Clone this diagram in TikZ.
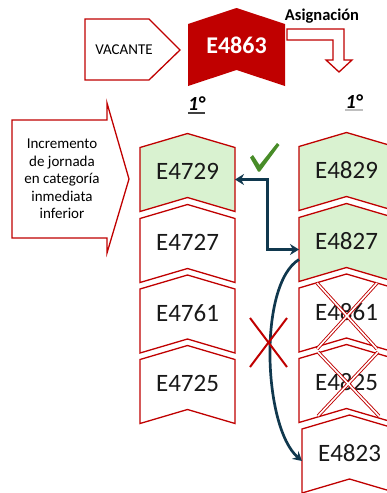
\documentclass[tikz,border=0pt]{standalone}
\usepackage{fontspec}
\setmainfont{Carlito}
\usetikzlibrary{arrows.meta,backgrounds,calc}
\definecolor{cred}{RGB}{192,0,0}
\definecolor{cgreen}{RGB}{217,242,208}
\definecolor{cnavy}{RGB}{16,56,78}
\definecolor{ccheck}{RGB}{72,140,40}
\tikzset{
  box/.style={minimum width=95pt, minimum height=64pt, inner sep=0pt, outer sep=0pt,
    text height=16pt, text depth=16pt, font=\fontsize{25}{30}\selectfont, text=black!90},
  redline/.style={draw=cred, line width=1.3pt, fill=white},
  greenbox/.style={draw=cred, line width=1.3pt, fill=cgreen},
  whitebox/.style={draw=cred, line width=1.3pt, fill=white},
  crossx/.style={draw=cred, line width=0.9pt, double=white, double distance=1.6pt},
  navyarrow/.style={draw=cnavy, line width=3pt},
}
\newcommand{\chev}[3]{%
  \path[#3] (#1.north west) -- ([yshift=#2]#1.north) -- (#1.north east) --
    (#1.south east) -- ([yshift=#2]#1.south) -- (#1.south west) -- cycle;}
\begin{document}
\begin{tikzpicture}[x=1pt,y=-1pt]
\useasboundingbox (0,0) rectangle (387,493);

% boxes
\node[box] (b4729) at (187.5,179.5) {E4729};
\node[box] (b4727) at (187.5,250.5) {E4727};
\node[box] (b4761) at (187.5,321) {E4761};
\node[box] (b4725) at (187.5,391.5) {E4725};
\node[box] (b4829) at (346.5,178.5) {E4829};
\node[box] (b4827) at (346.5,249.5) {E4827};
\node[box] (b4861) at (346.5,320) {E4861};
\node[box] (b4825) at (346.5,390.5) {E4825};
\node[box] (b4823) at (349.5,461) {E4823};
\node[box, minimum width=97pt, minimum height=62pt, text height=14pt, text depth=18pt,
  text=white, font=\bfseries\fontsize{24}{28}\selectfont] (b4863) at (236.5,55) {E4863};

% texts
\node[font=\fontsize{15}{18}\selectfont, anchor=base, inner sep=0pt] (vac) at (124,54) {VACANTE};
\node[font=\bfseries\fontsize{16.5}{20}\selectfont, anchor=base, inner sep=0pt] (asig) at (322,20) {Asignación};
\node[align=center, font=\fontsize{15}{17.5}\selectfont, inner sep=0pt] (inc) at (62,179)
  {Incremento\\de jornada\\en categoría\\inmediata\\inferior};
\node[font=\bfseries\itshape\fontsize{20}{24}\selectfont, anchor=base, inner sep=0pt] (p1) at (196.5,110) {1°};
\node[font=\bfseries\itshape\fontsize{20}{24}\selectfont, anchor=base, inner sep=0pt] (p2) at (354,108) {1°};
\draw[black!75, line width=1.2pt] ([yshift=-3pt]p1.base west) -- ([yshift=-3pt]p1.base east);
\draw[black!25, line width=1.5pt] ([yshift=-2pt]p2.base west) -- ([yshift=-2pt]p2.base east);

% check mark
\fill[ccheck] (250,157.5) -- (253,155) -- (259.5,165) -- (277,143) -- (279.5,145) -- (260,171.5) -- (258,171.5) -- cycle;

% connectors
\draw[navyarrow, {Stealth[length=9pt,width=11pt]}-{Stealth[length=9pt,width=11pt]}]
  (b4729.east) -- ++(32,0) |- (b4827.west);
\draw[draw=cnavy, line width=2.7pt, -{Stealth[length=9pt,width=10pt]}]
  ([yshift=-10pt]b4827.west) .. controls +(-41,25) and +(-39,-34) .. (b4823.west);

% crosses
\draw[cred, line width=2pt] (250,318) -- (287,367) (287,318) -- (250,367);
\draw[crossx] (317,283) -- (377,349) (377,283) -- (317,349);
\draw[crossx] (318,352) -- (379,416) (378,352) -- (318,416);

\begin{pgfonlayer}{background}
  \chev{b4729}{14pt}{greenbox}
  \chev{b4727}{14pt}{whitebox}
  \chev{b4761}{14pt}{whitebox}
  \chev{b4725}{14pt}{whitebox}
  \chev{b4829}{14pt}{greenbox}
  \chev{b4827}{14pt}{greenbox}
  \chev{b4861}{14pt}{whitebox}
  \chev{b4825}{14pt}{whitebox}
  \chev{b4823}{14pt}{whitebox}
  \chev{b4863}{16pt}{fill=cred}
  % VACANTE pentagon
  \path[redline] (85,19) -- (149,19) -- (180,50) -- (149,80) -- (85,80) -- cycle;
  % Incremento arrow
  \path[redline] (12,120) -- (107,120) -- (107,103) -- (129,179) -- (107,253) -- (107,238) -- (12,238) -- cycle;
  % Asignacion bent arrow
  \path[redline] (287,29) -- (344,29) -- (344,60) -- (352,60) -- (339,72) -- (326,60) -- (333,60) -- (333,40) -- (287,40) -- cycle;
\end{pgfonlayer}
\end{tikzpicture}
\end{document}
